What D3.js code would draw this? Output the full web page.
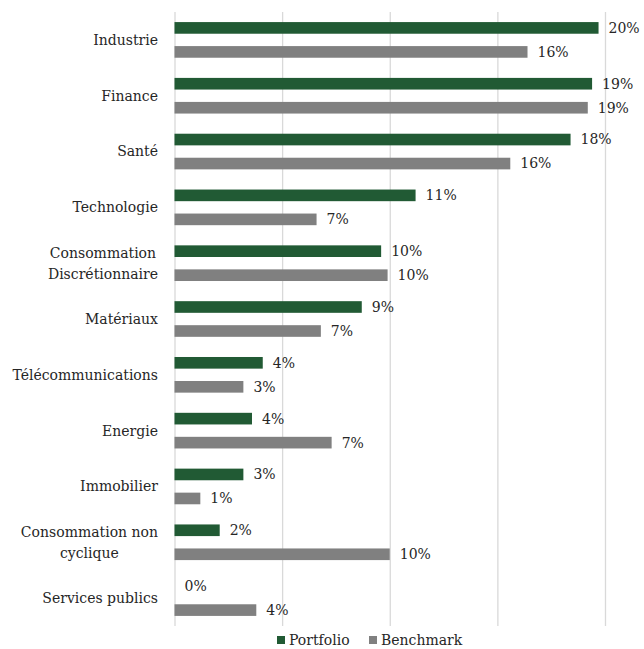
<!DOCTYPE html>
<html>
<head>
<meta charset="utf-8">
<script src="https://cdn.jsdelivr.net/npm/d3@7"></script>
<style>
  body { margin: 0; background: #fff; }
  svg text { font-family: 'DejaVu Serif', serif; fill: #262626; }
</style>
</head>
<body>
<svg class="barChart"></svg>
<script>
(function () {
  'use strict';

  // data, in percent
  var categories = ['Industrie', 'Finance', 'Santé', 'Technologie', 'Consommation\nDiscrétionnaire',
    'Matériaux', 'Télécommunications', 'Energie', 'Immobilier', 'Consommation non\ncyclique', 'Services publics'];
  var portfolio = [19.7, 19.4, 18.4, 11.2, 9.6, 8.7, 4.1, 3.6, 3.2, 2.1, 0];
  var benchmark = [16.4, 19.2, 15.6, 6.6, 9.9, 6.8, 3.2, 7.3, 1.2, 10.0, 3.8];
  var seriesNames = ['Portfolio', 'Benchmark'];
  var gridTicks = [0, 5, 10, 15, 20];

  var colors = { Portfolio: '#215a34', Benchmark: '#808080' };

  var W = 644, H = 649;
  var margin = { top: 12, right: 39, bottom: 23, left: 174.5 };
  var width = W - margin.left - margin.right;
  var height = H - margin.top - margin.bottom;
  var fontSize = 14;

  var rows = categories.map(function (c, i) {
    return { cat: c, Portfolio: portfolio[i], Benchmark: benchmark[i] };
  });

  var svg = d3.select('.barChart')
    .attr('width', W)
    .attr('height', H);

  var g = svg.append('g')
    .attr('transform', 'translate(' + margin.left + ',' + margin.top + ')');

  var x = d3.scaleLinear().domain([0, 20]).range([0, width]);
  var y = d3.scaleBand().domain(categories).range([0, height]);
  var y2 = d3.scaleBand().domain(seriesNames).range([0, y.bandwidth()])
    .paddingInner(0.515).paddingOuter(0.42);

  // gridlines
  var grid = g.append('g')
    .call(d3.axisBottom(x).tickValues(gridTicks).tickSize(height).tickFormat(''));
  grid.select('.domain').remove();
  grid.selectAll('line').attr('stroke', '#d9d9d9').attr('stroke-width', 1.3);

  // bars
  var groups = g.selectAll('.grp')
    .data(rows)
    .enter()
    .append('g')
    .attr('class', 'grp')
    .attr('transform', function (d) { return 'translate(0,' + y(d.cat) + ')'; });

  groups.selectAll('rect')
    .data(function (d) { return seriesNames.map(function (k) { return { key: k, value: d[k] }; }); })
    .enter()
    .append('rect')
    .attr('x', x(0))
    .attr('y', function (d) { return y2(d.key); })
    .attr('width', function (d) { return x(d.value) - x(0); })
    .attr('height', y2.bandwidth())
    .attr('fill', function (d) { return colors[d.key]; });

  groups.selectAll('.val')
    .data(function (d) { return seriesNames.map(function (k) { return { key: k, value: d[k] }; }); })
    .enter()
    .append('text')
    .attr('class', 'val')
    .attr('x', function (d) { return x(d.value) + 10; })
    .attr('y', function (d) { return y2(d.key) + y2.bandwidth() / 2; })
    .attr('dy', '0.35em')
    .style('font-size', fontSize + 'px')
    .text(function (d) { return Math.round(d.value) + '%'; });

  // category labels (multi-line ones centred on each other, block right-aligned)
  var lineH = 21;
  rows.forEach(function (d) {
    var lines = d.cat.split('\n');
    var cy = margin.top + y(d.cat) + y.bandwidth() / 2;
    var t = svg.append('text')
      .style('font-size', fontSize + 'px')
      .attr('text-anchor', 'middle');
    lines.forEach(function (ln, i) {
      t.append('tspan')
        .attr('y', cy + (i - (lines.length - 1) / 2) * lineH)
        .attr('dy', '0.35em')
        .text(ln);
    });
    var maxW = 0;
    t.selectAll('tspan').each(function () {
      maxW = Math.max(maxW, this.getComputedTextLength());
    });
    t.selectAll('tspan').attr('x', 158 - maxW / 2);
  });

  // legend
  var legend = svg.append('g').attr('transform', 'translate(0,' + (H - 5) + ')');
  var lx = [277, 369];
  seriesNames.forEach(function (k, i) {
    legend.append('rect')
      .attr('x', lx[i]).attr('y', -8)
      .attr('width', 8).attr('height', 8)
      .attr('fill', colors[k]);
    legend.append('text')
      .attr('x', lx[i] + 12).attr('y', -4)
      .attr('dy', '0.35em')
      .style('font-size', fontSize + 'px')
      .text(k);
  });
}());
</script>
</body>
</html>
